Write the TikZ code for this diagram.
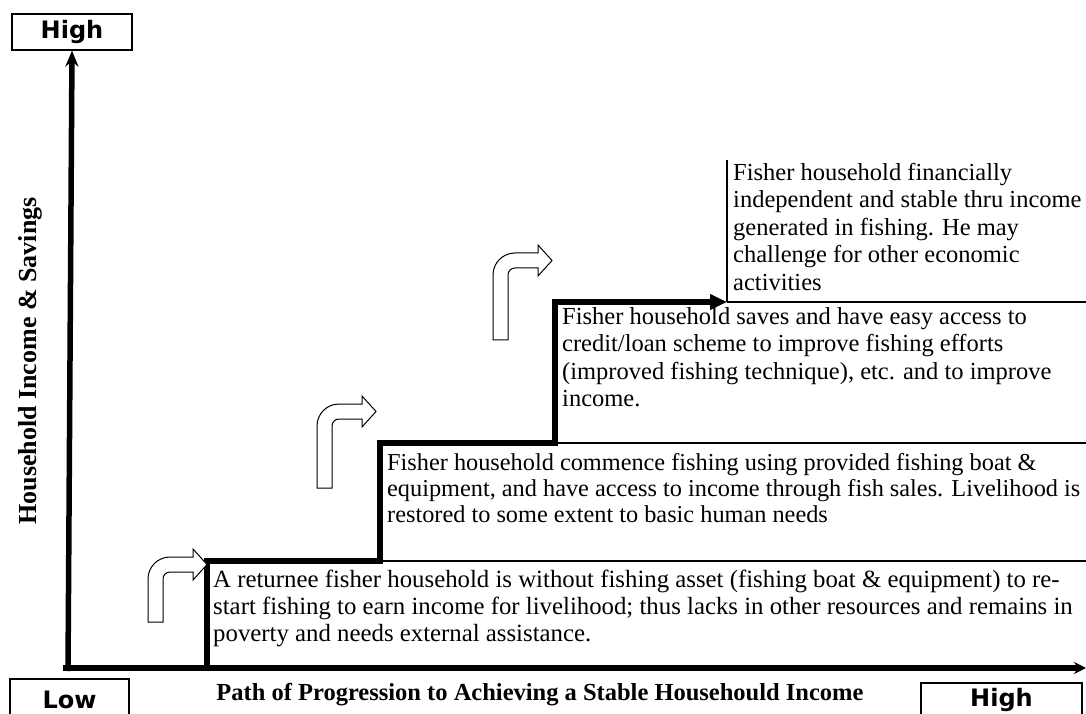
\documentclass[tikz,border=0pt]{standalone}
\usepackage{fontspec}
\setmainfont{Liberation Serif}
\newfontfamily\boxfont{DejaVu Sans}
\usetikzlibrary{arrows.meta}

\tikzset{
  thickline/.style={line width=5.5pt},
  thinline/.style={line width=1.1pt},
  stagetext/.style={anchor=north west, align=left, inner sep=0pt,
    font=\fontsize{24.5}{27.5}\selectfont},
  axislabel/.style={font=\bfseries\fontsize{24.5}{26}\selectfont},
  levelbox/.style={draw, line width=1.1pt, inner sep=0pt,
    font=\boxfont\bfseries\fontsize{24}{24}\selectfont},
  bent/.pic={
    \draw[line width=1pt, fill=white] (0,0) -- (0,#1-22)
      arc[start angle=180, end angle=90, radius=22] -- (45,#1) -- (45,#1+8)
      -- (59,#1-7.5) -- (45,#1-23) -- (45,#1-15) -- (22,#1-15)
      arc[start angle=90, end angle=180, radius=7] -- (15,0) -- cycle;
  }
}

\begin{document}
\begin{tikzpicture}[x=1pt,y=1pt,line join=miter]
\useasboundingbox (0,0) rectangle (1086,713);
\clip (0,0) rectangle (1086,713);

% level boxes
\node[levelbox, minimum width=120pt, minimum height=36pt] (yhigh) at (72,681) {High};
\node[levelbox, minimum width=119pt, minimum height=42pt] (low) at (69.5,13) {Low};
\node[levelbox, minimum width=161pt, minimum height=34pt] (xhigh) at (1001.5,13) {High};

% axes
\coordinate (origin) at (68,45);
\coordinate (xend) at (1086,45);
\draw[thickline, -{Stealth[length=16pt,width=13pt]}] (68,42) -- (yhigh.south);
\draw[thickline, -{Stealth[length=12pt,width=12pt]}] (63,45) -- (xend);

\node[axislabel] (xlabel) at (540,18) {Path of Progression to Achieving a Stable Househould Income};
\node[axislabel, font=\bfseries\fontsize{26}{26}\selectfont, rotate=90] (ylabel) at (30,352) {Household Income \& Savings};

% staircase
\coordinate (s0) at (207,45);
\coordinate (s1) at (380,152);
\coordinate (s2) at (555,270);
\coordinate (s3) at (727,411);
\draw[thickline, -{Triangle[length=17pt,width=15pt]}] (s0) |- (s1) |- (s2) |- (s3);

% stage borders
\draw[thinline] (s1) -- (1086,152);
\draw[thinline] (s2) -- (1086,270);
\draw[thinline] (s3) -- (1086,411);
\draw[thinline] (s3) -- (727,553);

% bent arrows
\pic at (148,91) {bent=65};
\pic at (317,225) {bent=84};
\pic at (493,373) {bent=87};

% stage texts
\node[stagetext, font=\fontsize{24.8}{27}\selectfont] (stage1) at (213,143) {A returnee fisher household is without fishing asset (fishing boat \& equipment) to re-\\
start fishing to earn income for livelihood; thus lacks in other resources and remains in\\
poverty and needs external assistance.};
\node[stagetext, font=\fontsize{24.3}{26}\selectfont] (stage2) at (387,260) {Fisher household commence fishing using provided fishing boat \&\\
equipment, and have access to income through fish sales. Livelihood is\\
restored to some extent to basic human needs};
\node[stagetext] (stage3) at (562,406) {Fisher household saves and have easy access to\\
credit/loan scheme to improve fishing efforts\\
(improved fishing technique), etc. and to improve\\
income.};
\node[stagetext] (stage4) at (733,550) {Fisher household financially\\
independent and stable thru income\\
generated in fishing. He may\\
challenge for other economic\\
activities};
\end{tikzpicture}
\end{document}
